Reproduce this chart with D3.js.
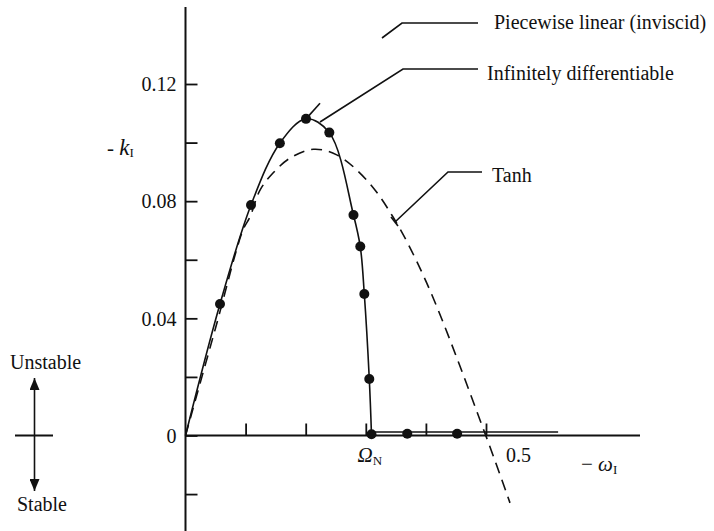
<!DOCTYPE html>
<html>
<head>
<meta charset="utf-8">
<script src="https://cdn.jsdelivr.net/npm/d3@7"></script>
<style>
  body { margin: 0; background: #fff; }
  svg text { font-family: "Liberation Serif", "DejaVu Serif", serif; fill: #111; }
</style>
</head>
<body>
<svg id="chart"></svg>
<script>
// Infinitely differentiable profile (solid)
const smoothCurve = [
  [0, 0], [0.0574, 0.0449], [0.109, 0.0787], [0.157, 0.0998], [0.2005, 0.1081],
  [0.2393, 0.1034], [0.2795, 0.0753], [0.2908, 0.0645], [0.2975, 0.0483],
  [0.3058, 0.0193], [0.3095, 0]
];
// after Omega_N the branch runs just above the axis
const tailCurve = [[0.3095, 0], [0.3095, 0.0012], [0.62, 0.0012]];
// short piece of the piecewise linear (inviscid) curve past the peak
const piecewiseTop = [[0.2005, 0.1081], [0.2238, 0.1134]];
// computed points (dots)
const dots = [
  [0.0574, 0.0449], [0.109, 0.0787], [0.157, 0.0998], [0.2005, 0.1081],
  [0.2393, 0.1034], [0.2795, 0.0753], [0.2908, 0.0645], [0.2975, 0.0483],
  [0.3058, 0.0193], [0.3095, 0.0004], [0.369, 0.0006], [0.452, 0.0006]
];
// Tanh profile (dashed)
const tanhCurve = [
  [0, 0], [0.05, 0.0367], [0.0957, 0.0702], [0.1073, 0.0746], [0.124, 0.0838],
  [0.1456, 0.0896], [0.1739, 0.0947], [0.2127, 0.0977], [0.2516, 0.0958],
  [0.3015, 0.0872], [0.3453, 0.0746], [0.4013, 0.0521], [0.498, 0.0009],
  [0.5399, -0.023]
];
const yTicks = [-0.02, 0, 0.02, 0.04, 0.06, 0.08, 0.10, 0.12];
const yLabels = [0, 0.04, 0.08, 0.12];
const xTicks = [0.1, 0.2, 0.3, 0.4, 0.5];

class StabilityChart {
  constructor(_config) {
    this.config = {
      parentElement: _config.parentElement,
      containerWidth: _config.containerWidth || 714,
      containerHeight: _config.containerHeight || 531
    };
    this.initVis();
  }

  initVis() {
    let vis = this;

    vis.svg = d3.select(vis.config.parentElement)
      .attr("width", vis.config.containerWidth)
      .attr("height", vis.config.containerHeight);

    vis.x = d3.scaleLinear().domain([0, 0.5]).range([185.5, 486]);
    vis.y = d3.scaleLinear().domain([0, 0.12]).range([435.5, 84]);

    // axis lines
    vis.svg.append("line")
      .attr("x1", vis.x(0)).attr("x2", vis.x(0))
      .attr("y1", 7).attr("y2", 531)
      .attr("stroke", "#111").attr("stroke-width", 2);
    vis.svg.append("line")
      .attr("x1", vis.x(0)).attr("x2", 640)
      .attr("y1", vis.y(0)).attr("y2", vis.y(0))
      .attr("stroke", "#111").attr("stroke-width", 2);

    // y ticks (inside, to the right)
    const yTickG = vis.svg.append("g")
      .attr("transform", `translate(${vis.x(0)},0)`)
      .call(d3.axisRight(vis.y).tickValues(yTicks).tickSize(12).tickFormat(""));
    yTickG.select(".domain").remove();
    yTickG.selectAll("line").attr("stroke", "#111").attr("stroke-width", 1.8);

    // y labels on the left
    const yLabG = vis.svg.append("g")
      .attr("transform", `translate(${vis.x(0)},0)`)
      .call(d3.axisLeft(vis.y).tickValues(yLabels).tickSize(0).tickPadding(9)
        .tickFormat(d => d === 0 ? "0" : d3.format(".2f")(d)));
    yLabG.select(".domain").remove();
    yLabG.selectAll("text")
      .attr("font-size", 20)
      .attr("font-family", "Liberation Serif")
      .attr("dy", "0.34em");

    // x ticks pointing up
    const xTickG = vis.svg.append("g")
      .attr("transform", `translate(0,${vis.y(0)})`)
      .call(d3.axisTop(vis.x).tickValues(xTicks).tickSize(12).tickFormat(""));
    xTickG.select(".domain").remove();
    xTickG.selectAll("line").attr("stroke", "#111").attr("stroke-width", 1.8);

    vis.svg.append("text")
      .attr("x", vis.x(0.5) + 20).attr("y", 462)
      .attr("font-size", 20)
      .text("0.5");

    // Omega_N label
    const om = vis.svg.append("text")
      .attr("x", vis.x(0.3095) - 14).attr("y", 462)
      .attr("font-size", 21);
    om.append("tspan").attr("font-style", "italic").text("Ω");
    om.append("tspan").attr("font-size", 13).attr("dy", 3).text("N");

    // axis titles
    const wl = vis.svg.append("text")
      .attr("x", 581).attr("y", 471)
      .attr("font-size", 21);
    wl.append("tspan").text("− ");
    wl.append("tspan").attr("font-style", "italic").text("ω");
    wl.append("tspan").attr("font-size", 13).attr("dy", 3).text("I");

    const kl = vis.svg.append("text")
      .attr("x", 107).attr("y", 155)
      .attr("font-size", 21);
    kl.append("tspan").text("- ");
    kl.append("tspan").attr("font-style", "italic").attr("font-size", 23).text("k");
    kl.append("tspan").attr("font-size", 13).attr("dy", 2).text("I");

    // curves
    const line = d3.line()
      .x(d => vis.x(d[0]))
      .y(d => vis.y(d[1]));

    vis.svg.append("path")
      .datum(tanhCurve)
      .attr("d", line.curve(d3.curveCatmullRom.alpha(0.5)))
      .attr("fill", "none").attr("stroke", "#111")
      .attr("stroke-width", 1.6).attr("stroke-dasharray", "11,7");

    vis.svg.append("path")
      .datum(smoothCurve)
      .attr("d", line.curve(d3.curveCatmullRom.alpha(0.5)))
      .attr("fill", "none").attr("stroke", "#111").attr("stroke-width", 1.6);

    vis.svg.append("path")
      .datum(tailCurve)
      .attr("d", line.curve(d3.curveLinear))
      .attr("fill", "none").attr("stroke", "#111").attr("stroke-width", 1.6);

    vis.svg.append("path")
      .datum(piecewiseTop)
      .attr("d", line.curve(d3.curveLinear))
      .attr("fill", "none").attr("stroke", "#111").attr("stroke-width", 1.6);

    vis.svg.selectAll(".dot")
      .data(dots)
      .join("circle")
      .attr("class", "dot")
      .attr("cx", d => vis.x(d[0]))
      .attr("cy", d => vis.y(d[1]))
      .attr("r", 5)
      .attr("fill", "#111");

    // leader lines and legend text
    const leaders = [
      { pts: [[382, 38], [402, 23], [478, 23]], label: "Piecewise linear (inviscid)", tx: 494, ty: 29 },
      { pts: [[320, 122], [403, 69], [478, 69]], label: "Infinitely differentiable", tx: 487, ty: 80 },
      { pts: [[395, 222], [448, 172], [482, 172]], label: "Tanh", tx: 492, ty: 182 }
    ];
    leaders.forEach(l => {
      vis.svg.append("path")
        .attr("d", d3.line()(l.pts))
        .attr("fill", "none").attr("stroke", "#111").attr("stroke-width", 1.6);
      vis.svg.append("text")
        .attr("x", l.tx).attr("y", l.ty)
        .attr("font-size", 20)
        .text(l.label);
    });
    // small bar at the end of the Tanh leader
    vis.svg.append("line")
      .attr("x1", 391).attr("y1", 217).attr("x2", 398).attr("y2", 226)
      .attr("stroke", "#111").attr("stroke-width", 1.6);

    // Unstable / Stable indicator
    vis.svg.append("defs").append("marker")
      .attr("id", "arrow")
      .attr("viewBox", "0 0 12 10")
      .attr("refX", 12).attr("refY", 5)
      .attr("markerWidth", 12).attr("markerHeight", 10)
      .attr("markerUnits", "userSpaceOnUse")
      .attr("orient", "auto-start-reverse")
      .append("path")
      .attr("d", "M0,0 L12,5 L0,10 Z")
      .attr("fill", "#111");

    vis.svg.append("line")
      .attr("x1", 34.5).attr("x2", 34.5)
      .attr("y1", 378).attr("y2", 491)
      .attr("stroke", "#111").attr("stroke-width", 1.6)
      .attr("marker-start", "url(#arrow)")
      .attr("marker-end", "url(#arrow)");
    vis.svg.append("line")
      .attr("x1", 15).attr("x2", 53)
      .attr("y1", vis.y(0)).attr("y2", vis.y(0))
      .attr("stroke", "#111").attr("stroke-width", 1.8);

    vis.svg.append("text").attr("x", 10).attr("y", 369).attr("font-size", 20).text("Unstable");
    vis.svg.append("text").attr("x", 17).attr("y", 511).attr("font-size", 20).text("Stable");
  }
}

new StabilityChart({ parentElement: "#chart" });
</script>
</body>
</html>
